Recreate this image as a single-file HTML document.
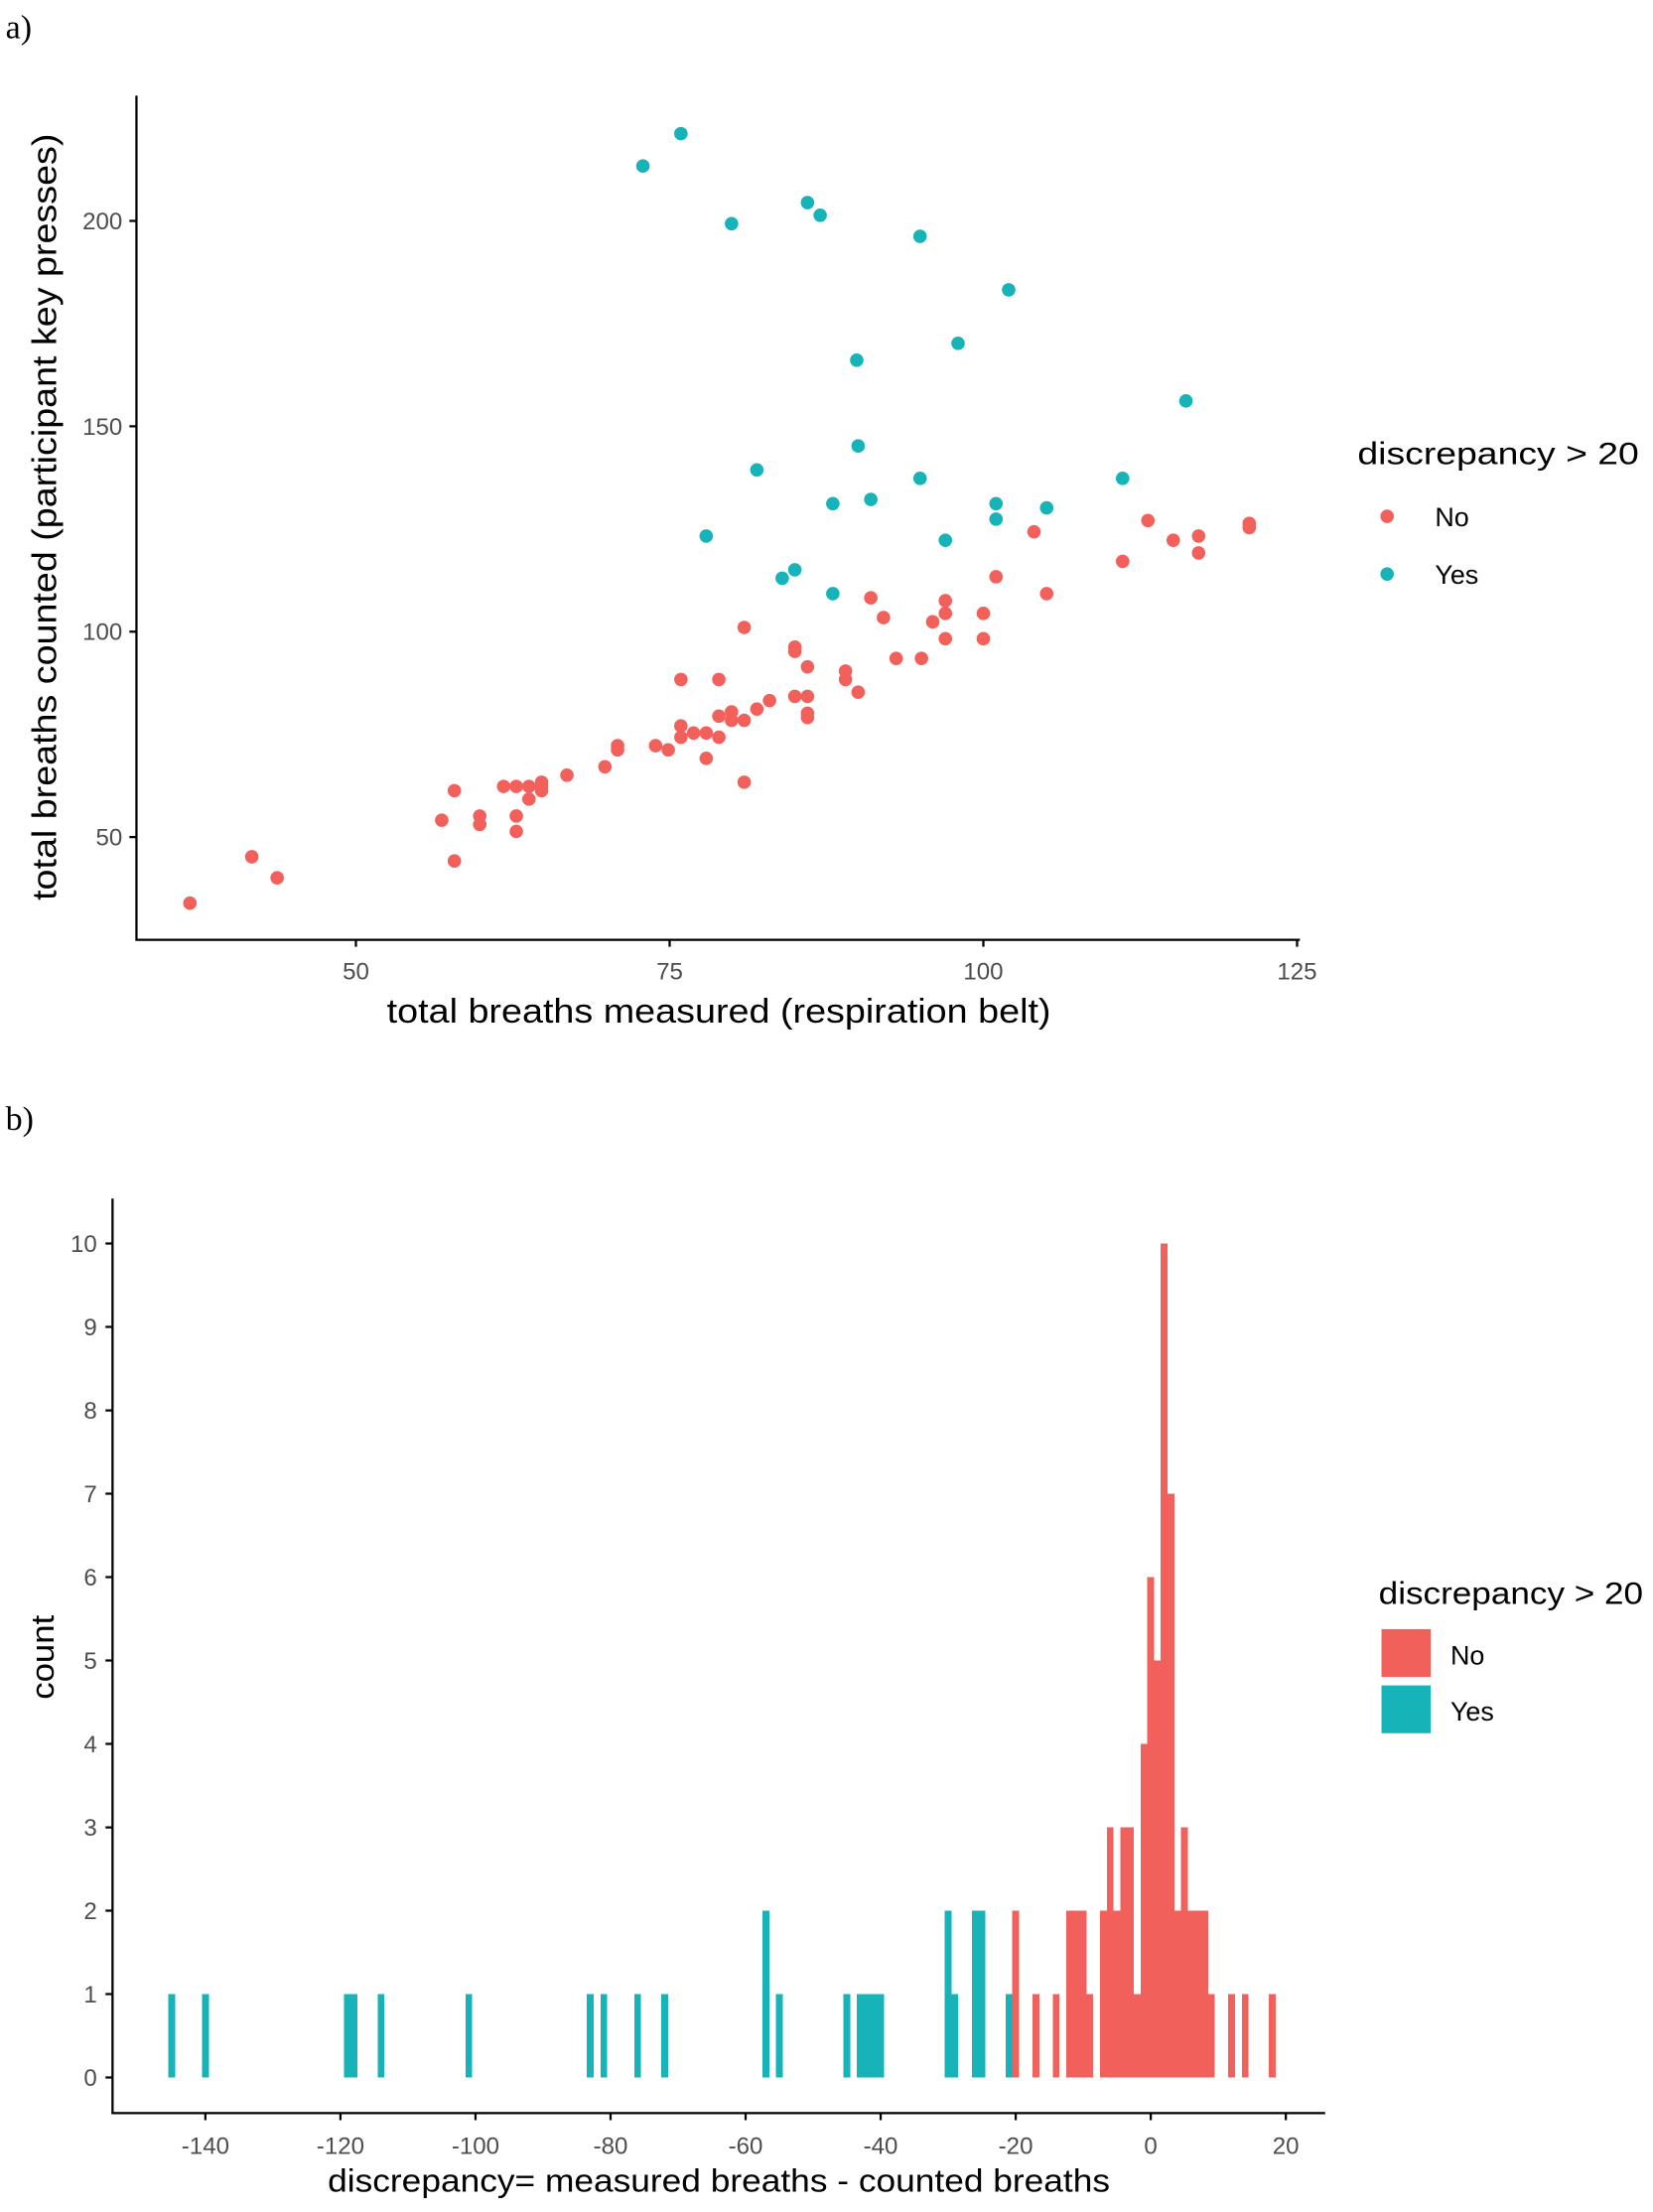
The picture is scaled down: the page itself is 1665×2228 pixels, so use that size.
<!DOCTYPE html>
<html><head><meta charset="utf-8"><style>
html,body{margin:0;padding:0;background:#fff;}
svg{display:block;}
text{font-family:"Liberation Sans",sans-serif;}
</style></head><body>
<svg width="1665" height="2228" viewBox="0 0 1175 1572.3" preserveAspectRatio="none" xmlns="http://www.w3.org/2000/svg">
<rect width="1175" height="1572.3" fill="#fff"/>
<text x="4" y="27" style="font-family:'Liberation Serif',serif" font-size="24">a)</text>
<!-- panel a axes -->
<g stroke="#000" stroke-width="1.6" fill="none">
<path d="M97,68 V668 H924"/>
<path d="M92,157H97 M92,303H97 M92,449H97 M92,595H97"/>
<path d="M253,668V673 M476,668V673 M699,668V673 M922,668V673"/>
</g>
<g font-size="17" fill="#4d4d4d" text-anchor="end">
<text x="87" y="163">200</text><text x="87" y="309">150</text><text x="87" y="455">100</text><text x="87" y="601">50</text>
</g>
<g font-size="17" fill="#4d4d4d" text-anchor="middle">
<text x="253" y="696">50</text><text x="476" y="696">75</text><text x="699" y="696">100</text><text x="922" y="696">125</text>
</g>
<text x="275" y="727" font-size="24" textLength="472" lengthAdjust="spacingAndGlyphs">total breaths measured (respiration belt)</text>
<text transform="translate(40,640) rotate(-90)" font-size="24" textLength="545" lengthAdjust="spacingAndGlyphs">total breaths counted (participant key presses)</text>
<g fill="#16B4B8">
<circle cx="457" cy="118" r="4.8"/><circle cx="484" cy="95" r="4.8"/><circle cx="520" cy="159" r="4.8"/><circle cx="574" cy="144" r="4.8"/><circle cx="583" cy="153" r="4.8"/><circle cx="654" cy="168" r="4.8"/><circle cx="717" cy="206" r="4.8"/><circle cx="681" cy="244" r="4.8"/><circle cx="609" cy="256" r="4.8"/><circle cx="843" cy="285" r="4.8"/><circle cx="610" cy="317" r="4.8"/><circle cx="538" cy="334" r="4.8"/><circle cx="654" cy="340" r="4.8"/><circle cx="592" cy="358" r="4.8"/><circle cx="619" cy="355" r="4.8"/><circle cx="708" cy="358" r="4.8"/><circle cx="708" cy="369" r="4.8"/><circle cx="744" cy="361" r="4.8"/><circle cx="798" cy="340" r="4.8"/><circle cx="502" cy="381" r="4.8"/><circle cx="672" cy="384" r="4.8"/><circle cx="556" cy="411" r="4.8"/><circle cx="565" cy="405" r="4.8"/><circle cx="592" cy="422" r="4.8"/>
</g>
<g fill="#F2605C">
<circle cx="135" cy="642" r="4.8"/><circle cx="179" cy="609" r="4.8"/><circle cx="197" cy="624" r="4.8"/><circle cx="323" cy="562" r="4.8"/><circle cx="314" cy="583" r="4.8"/><circle cx="341" cy="580" r="4.8"/><circle cx="341" cy="586" r="4.8"/><circle cx="323" cy="612" r="4.8"/><circle cx="358" cy="559" r="4.8"/><circle cx="367" cy="559" r="4.8"/><circle cx="376" cy="559" r="4.8"/><circle cx="385" cy="559" r="4.8"/><circle cx="367" cy="580" r="4.8"/><circle cx="367" cy="591" r="4.8"/><circle cx="376" cy="568" r="4.8"/><circle cx="385" cy="562" r="4.8"/><circle cx="385" cy="556" r="4.8"/><circle cx="403" cy="551" r="4.8"/><circle cx="430" cy="545" r="4.8"/><circle cx="439" cy="530" r="4.8"/><circle cx="439" cy="533" r="4.8"/><circle cx="466" cy="530" r="4.8"/><circle cx="475" cy="533" r="4.8"/><circle cx="484" cy="483" r="4.8"/><circle cx="484" cy="516" r="4.8"/><circle cx="484" cy="524" r="4.8"/><circle cx="493" cy="521" r="4.8"/><circle cx="502" cy="521" r="4.8"/><circle cx="502" cy="539" r="4.8"/><circle cx="511" cy="483" r="4.8"/><circle cx="511" cy="509" r="4.8"/><circle cx="511" cy="524" r="4.8"/><circle cx="520" cy="506" r="4.8"/><circle cx="520" cy="512" r="4.8"/><circle cx="529" cy="512" r="4.8"/><circle cx="529" cy="446" r="4.8"/><circle cx="529" cy="556" r="4.8"/><circle cx="538" cy="504" r="4.8"/><circle cx="547" cy="498" r="4.8"/><circle cx="565" cy="460" r="4.8"/><circle cx="565" cy="463" r="4.8"/><circle cx="565" cy="495" r="4.8"/><circle cx="574" cy="474" r="4.8"/><circle cx="574" cy="495" r="4.8"/><circle cx="574" cy="507" r="4.8"/><circle cx="574" cy="510" r="4.8"/><circle cx="601" cy="477" r="4.8"/><circle cx="601" cy="483" r="4.8"/><circle cx="610" cy="492" r="4.8"/><circle cx="619" cy="425" r="4.8"/><circle cx="628" cy="439" r="4.8"/><circle cx="637" cy="468" r="4.8"/><circle cx="655" cy="468" r="4.8"/><circle cx="663" cy="442" r="4.8"/><circle cx="672" cy="427" r="4.8"/><circle cx="672" cy="436" r="4.8"/><circle cx="672" cy="454" r="4.8"/><circle cx="699" cy="436" r="4.8"/><circle cx="699" cy="454" r="4.8"/><circle cx="708" cy="410" r="4.8"/><circle cx="735" cy="378" r="4.8"/><circle cx="744" cy="422" r="4.8"/><circle cx="798" cy="399" r="4.8"/><circle cx="816" cy="370" r="4.8"/><circle cx="834" cy="384" r="4.8"/><circle cx="852" cy="381" r="4.8"/><circle cx="852" cy="393" r="4.8"/><circle cx="888" cy="372" r="4.8"/><circle cx="888" cy="375" r="4.8"/>
</g>
<text x="965" y="330" font-size="22" textLength="200" lengthAdjust="spacingAndGlyphs">discrepancy &gt; 20</text>
<circle cx="986" cy="367" r="4.8" fill="#F2605C"/><circle cx="986" cy="408" r="4.8" fill="#16B4B8"/>
<text x="1020" y="374" font-size="19">No</text><text x="1020" y="415" font-size="19">Yes</text>

<!-- panel b -->
<text x="4" y="803" style="font-family:'Liberation Serif',serif" font-size="24">b)</text>
<g transform="translate(817.9,1476.7) scale(4.799,-59.28)" shape-rendering="crispEdges">
<g fill="#16B4B8">
<rect x="-145.5" y="0" width="1" height="1"/><rect x="-140.5" y="0" width="1" height="1"/><rect x="-119.5" y="0" width="2" height="1"/><rect x="-114.5" y="0" width="1" height="1"/><rect x="-101.5" y="0" width="1" height="1"/><rect x="-83.5" y="0" width="1" height="1"/><rect x="-81.5" y="0" width="1" height="1"/><rect x="-76.5" y="0" width="1" height="1"/><rect x="-72.5" y="0" width="1" height="1"/><rect x="-57.5" y="0" width="1" height="2"/><rect x="-55.5" y="0" width="1" height="1"/><rect x="-45.5" y="0" width="1" height="1"/><rect x="-43.5" y="0" width="4" height="1"/><rect x="-30.5" y="0" width="1" height="2"/><rect x="-29.5" y="0" width="1" height="1"/><rect x="-26.5" y="0" width="2" height="2"/><rect x="-21.5" y="0" width="1" height="1"/>
</g>
<g fill="#F2605C">
<rect x="-20.5" y="0" width="1" height="2"/><rect x="-17.5" y="0" width="1" height="1"/><rect x="-14.5" y="0" width="1" height="1"/><rect x="-12.5" y="0" width="3" height="2"/><rect x="-9.5" y="0" width="1" height="1"/><rect x="-7.5" y="0" width="1" height="2"/><rect x="-6.5" y="0" width="1" height="3"/><rect x="-5.5" y="0" width="1" height="2"/><rect x="-4.5" y="0" width="2" height="3"/><rect x="-2.5" y="0" width="1" height="1"/><rect x="-1.5" y="0" width="1" height="4"/><rect x="-0.5" y="0" width="1" height="6"/><rect x="0.5" y="0" width="1" height="5"/><rect x="1.5" y="0" width="1" height="10"/><rect x="2.5" y="0" width="1" height="7"/><rect x="3.5" y="0" width="1" height="2"/><rect x="4.5" y="0" width="1" height="3"/><rect x="5.5" y="0" width="3" height="2"/><rect x="8.5" y="0" width="1" height="1"/><rect x="11.5" y="0" width="1" height="1"/><rect x="13.5" y="0" width="1" height="1"/><rect x="17.5" y="0" width="1" height="1"/>
</g>
</g>
<g stroke="#000" stroke-width="1.6" fill="none">
<path d="M80,852 V1502 H942"/>
<path d="M75,1476.7h5 M75,1417.4h5 M75,1358.1h5 M75,1298.9h5 M75,1239.6h5 M75,1180.3h5 M75,1121h5 M75,1061.7h5 M75,1002.5h5 M75,943.2h5 M75,883.9h5"/>
<path d="M146,1502v5 M242,1502v5 M338,1502v5 M434,1502v5 M530,1502v5 M626,1502v5 M722,1502v5 M818,1502v5 M914,1502v5"/>
</g>
<g font-size="17" fill="#4d4d4d" text-anchor="end">
<text x="69" y="1482.7">0</text><text x="69" y="1423.4">1</text><text x="69" y="1364.1">2</text><text x="69" y="1304.9">3</text><text x="69" y="1245.6">4</text><text x="69" y="1186.3">5</text><text x="69" y="1127">6</text><text x="69" y="1067.7">7</text><text x="69" y="1008.5">8</text><text x="69" y="949.2">9</text><text x="69" y="889.9">10</text>
</g>
<g font-size="17" fill="#4d4d4d" text-anchor="middle">
<text x="146" y="1531">-140</text><text x="242" y="1531">-120</text><text x="338" y="1531">-100</text><text x="434" y="1531">-80</text><text x="530" y="1531">-60</text><text x="626" y="1531">-40</text><text x="722" y="1531">-20</text><text x="818" y="1531">0</text><text x="914" y="1531">20</text>
</g>
<text x="233" y="1558" font-size="23" textLength="556" lengthAdjust="spacingAndGlyphs">discrepancy= measured breaths - counted breaths</text>
<text transform="translate(38,1208) rotate(-90)" font-size="23" textLength="60" lengthAdjust="spacingAndGlyphs">count</text>
<text x="980" y="1140" font-size="22" textLength="188" lengthAdjust="spacingAndGlyphs">discrepancy &gt; 20</text>
<rect x="982" y="1158" width="35" height="34" fill="#F2605C"/>
<rect x="982" y="1198" width="35" height="34" fill="#16B4B8"/>
<text x="1031" y="1183" font-size="19">No</text><text x="1031" y="1223" font-size="19">Yes</text>
</svg>
</body></html>
